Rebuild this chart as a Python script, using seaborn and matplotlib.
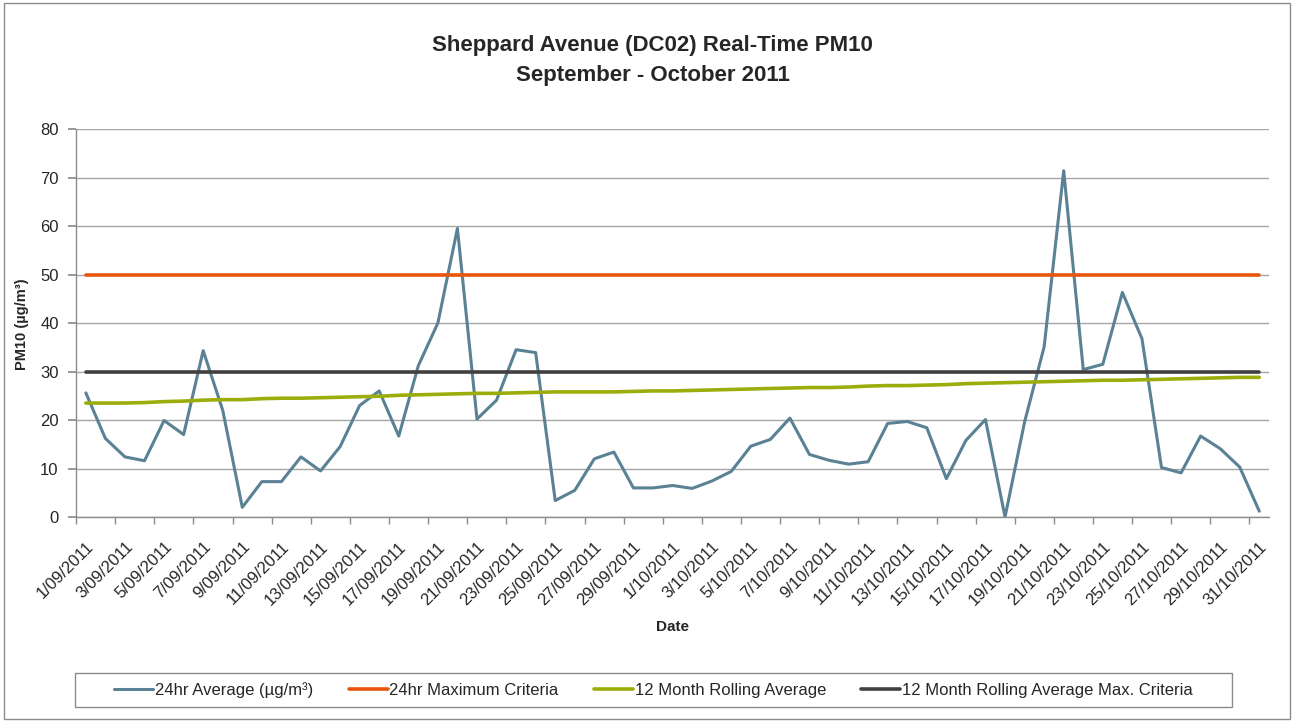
import numpy as np
import pandas as pd
import matplotlib
matplotlib.use("Agg")
import matplotlib.pyplot as plt
import seaborn as sns
from matplotlib.patches import Rectangle

# --- Data ---
dates = pd.date_range("2011-09-01", "2011-10-31", freq="D")
date_labels = [f"{d.day}/{d.month:02d}/{d.year}" for d in dates]

avg_24hr = [
    25.6, 16.2, 12.4, 11.6, 19.9, 17.0, 34.3, 22.0, 2.0, 7.3, 7.3, 12.4, 9.5, 14.5,
    23.0, 26.0, 16.7, 31.2, 40.0, 59.5, 20.2,
    24.1, 34.5, 33.9, 3.4, 5.5, 12.0, 13.4, 6.0, 6.0, 6.5, 5.9, 7.4, 9.4, 14.6,
    16.0, 20.4, 12.9, 11.7, 10.9, 11.4,
    19.3, 19.7, 18.4, 7.9, 15.8, 20.1, 0.0, 19.6, 35.1, 71.4, 30.4, 31.5, 46.3,
    36.8, 10.2, 9.1, 16.7, 14.1, 10.3, 1.2,
]
rolling_12m = [
    23.5, 23.5, 23.5, 23.6, 23.8, 23.9, 24.1, 24.2, 24.2, 24.4, 24.5, 24.5, 24.6,
    24.7, 24.8, 24.9, 25.1, 25.2, 25.3, 25.4, 25.5,
    25.5, 25.6, 25.7, 25.8, 25.8, 25.8, 25.8, 25.9, 26.0, 26.0, 26.1, 26.2, 26.3,
    26.4, 26.5, 26.6, 26.7, 26.7, 26.8, 27.0,
    27.1, 27.1, 27.2, 27.3, 27.5, 27.6, 27.7, 27.8, 27.9, 28.0, 28.1, 28.2, 28.2,
    28.3, 28.4, 28.5, 28.6, 28.7, 28.8, 28.8,
]
max_24hr = [50] * len(dates)
max_12m = [30] * len(dates)

series = [
    ("24hr Average (µg/m³)", avg_24hr, "#5b8195", 2.2),
    ("24hr Maximum Criteria", max_24hr, "#e8560c", 2.6),
    ("12 Month Rolling Average", rolling_12m, "#9bad0a", 2.6),
    ("12 Month Rolling Average Max. Criteria", max_12m, "#404040", 2.6),
]

df = pd.DataFrame({"idx": np.arange(len(dates))})
for name, vals, _, _ in series:
    df[name] = vals

# --- Plot ---
sns.set_theme(style="white")
plt.rcParams["font.family"] = ["Liberation Sans", "DejaVu Sans"]

fig = plt.figure(figsize=(12.98, 7.22), dpi=100)
ax = fig.add_axes([0.0586, 0.2839, 0.9191, 0.5374])

for i, (name, vals, color, lw) in enumerate(series):
    sns.lineplot(data=df, x="idx", y=name, color=color, linewidth=lw,
                 ax=ax, label=name, zorder=3 + i)

ax.set_xlim(-0.5, len(dates) - 0.5)
ax.set_ylim(0, 80)
ax.set_yticks(np.arange(0, 81, 10))
ax.yaxis.grid(True, color="#a6a6a6", linewidth=1.0)
ax.set_axisbelow(True)

ax.set_xticks(np.arange(0, len(dates), 2))
ax.set_xticklabels(date_labels[::2], rotation=45, ha="right",
                   rotation_mode="anchor", fontsize=12)
ax.set_xticks(np.arange(-0.5, len(dates), 2), minor=True)
ax.tick_params(axis="x", which="major", length=0, pad=16)
ax.tick_params(axis="x", which="minor", length=5, color="#8c8c8c", direction="out",
               bottom=True)
ax.tick_params(axis="y", length=5.5, color="#8c8c8c", direction="out", left=True,
               labelsize=12, pad=7)

for s in ["top", "right"]:
    ax.spines[s].set_visible(False)
for s in ["left", "bottom"]:
    ax.spines[s].set_color("#8c8c8c")
    ax.spines[s].set_linewidth(1.0)

ax.set_xlabel("")
ax.set_ylabel("")
ax.get_legend().remove()

fig.text(0.503, 0.916, "Sheppard Avenue (DC02) Real-Time PM10\nSeptember - October 2011",
         ha="center", va="center", fontsize=16, fontweight="bold", linespacing=1.55)
fig.text(0.017, 0.551, "PM10 (µg/m³)", rotation=90, ha="center", va="center",
         fontsize=10.5, fontweight="bold")
fig.text(0.518, 0.132, "Date", ha="center", va="center", fontsize=11,
         fontweight="bold")

# legend, spread across the box used in the original
box_x0, box_x1 = 75 / 1298, 1232 / 1298
box_y0, box_y1 = 1 - 707 / 722, 1 - 673 / 722
handles, labels = ax.get_legend_handles_labels()
fig.legend(handles, labels, loc="center", mode="expand",
           bbox_to_anchor=(box_x0 + 0.02, box_y0, box_x1 - box_x0 - 0.04, box_y1 - box_y0),
           ncol=4, frameon=False, fontsize=12,
           handlelength=2.35, handletextpad=0.1, borderpad=0.3)
fig.patches.append(Rectangle((box_x0, box_y0), box_x1 - box_x0, box_y1 - box_y0,
                             transform=fig.transFigure, fill=False,
                             edgecolor="#8c8c8c", linewidth=1.0))

# chart area border
fig.patches.append(Rectangle((0.003, 0.004), 0.991, 0.992, transform=fig.transFigure,
                             fill=False, edgecolor="#8c8c8c", linewidth=1.0))

fig.savefig("out.png", dpi=100)
